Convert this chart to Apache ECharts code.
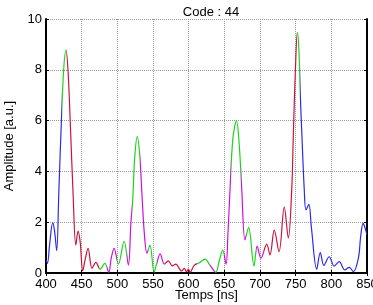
<!DOCTYPE html>
<html>
<head>
<meta charset="utf-8">
<script src="https://cdn.jsdelivr.net/npm/echarts@6/dist/echarts.min.js"></script>
<style>
  html, body { margin: 0; padding: 0; background: #fff; }
  #chart { width: 373px; height: 305px; }
</style>
</head>
<body>
<div id="chart"></div>
<script>
// temps (ns) et amplitude
const times = [400, 402, 405, 409.5, 412, 415, 418, 422, 425, 428, 431, 434.6, 438, 441.8, 445, 448, 451.5, 455, 459, 464.5,
  470, 476, 482.5, 488, 491.5, 495.5, 501.5, 509.5, 515.5, 519, 521.5, 524.5, 528, 531.5, 534.5, 538, 541.5, 545.8, 551.5, 555,
  560, 566, 571.5, 577, 582, 590, 594, 597, 599.5, 602, 608, 615, 623, 630, 638, 643, 647.7, 652.4, 655, 658,
  662, 667, 671, 674.4, 679, 684, 691.6, 696, 701.4, 709.4, 714, 720, 726.7, 734, 739.7, 744.5, 746.8, 749.5, 752.4, 754.5,
  756.5, 758.5, 762, 764.5, 768.5, 772, 779.5, 784.5, 789.5, 797, 804, 811, 819, 825, 831, 838, 841, 844.5, 847, 850]
const amps = [0.5, 0.38, 1.1, 1.98, 1.65, 0.88, 3.2, 6.3, 8.1, 8.78, 7.9, 5.5, 3.1, 1.1, 1.65, 1.2, 0.08, 0.55, 0.97, 0.18,
  0.42, 0.15, 0.38, 0.03, 0.6, 0.97, 0.35, 1.25, 0.31, 1.97, 2.85, 4.6, 5.37, 4.6, 3.1, 1.5, 0.78, 1.1, 0.03, 0.35,
  0.75, 0.35, 0.48, 0.28, 0.35, 0.08, 0.18, 0.05, 0.15, 0.03, 0.31, 0.4, 0.55, 0.3, 0.03, 0.5, 0.9, 0.35, 1.5, 3.3,
  5.3, 6.0, 5.0, 3.3, 1.3, 1.8, 0.28, 1.06, 0.58, 1.14, 0.71, 1.69, 0.84, 2.59, 1.37, 3.3, 5.5, 7.9, 9.47, 8.8,
  7.0, 5.6, 3.3, 2.48, 2.7, 1.8, 0.15, 0.8, 0.3, 0.64, 0.27, 0.45, 0.12, 0.22, 0.05, 0.6, 1.4, 1.96, 1.8, 1.5]

// segments colorés : limites en ns et couleur de chaque segment
const segBounds = [400, 422, 428.5, 474, 486, 499, 513, 521, 532, 543, 555, 567, 611, 630, 637, 650, 659, 673, 681, 694, 706, 752.5, 756, 850]
const segNames = ['b', 'g', 'r', 'g', 'm', 'g', 'm', 'g', 'm', 'g', 'm', 'r', 'g', 'm', 'g', 'm', 'g', 'm', 'g', 'm', 'r', 'g', 'b']
const palette = { b: '#2b2be6', g: '#1ed21e', r: '#c8143c', m: '#cc10dc' }

const xTicks = [400, 450, 500, 550, 600, 650, 700, 750, 800, 850]

const chart = echarts.init(document.getElementById('chart'))

const pieces = segNames.map((c, i) => ({ gte: segBounds[i], lt: segBounds[i + 1], color: palette[c] }))
pieces[pieces.length - 1].lte = 850
delete pieces[pieces.length - 1].lt

const font = 'Liberation Sans, Arial, sans-serif'
const dotted = { show: true, lineStyle: { color: '#999', type: [1, 1], width: 1 } }

chart.setOption({
  animation: false,
  title: {
    text: 'Code : 44',
    left: 206, top: 1, textAlign: 'center',
    textStyle: { fontSize: 13, fontWeight: 'normal', color: '#000', fontFamily: font }
  },
  grid: { left: 46, right: 6, top: 19, bottom: 32, outerBoundsMode: 'none' },
  xAxis: [{
    type: 'value', min: 400, max: 850, interval: 50,
    name: 'Temps [ns]', nameLocation: 'middle', nameGap: 16, nameMoveOverlap: false,
    nameTextStyle: { fontSize: 13, color: '#000', fontFamily: font },
    axisLine: { lineStyle: { color: '#000', width: 2 } },
    axisTick: { inside: true, length: 3, lineStyle: { color: '#000' } },
    axisLabel: { fontSize: 13, color: '#000', margin: 5, fontFamily: font, hideOverlap: false,
      formatter: v => xTicks.includes(v) ? String(v) : '' },
    splitLine: dotted
  }, {
    type: 'value', min: 400, max: 850, interval: 50, position: 'top',
    axisLine: { lineStyle: { color: '#000', width: 2 } },
    axisTick: { inside: true, length: 3, lineStyle: { color: '#000' } },
    axisLabel: { show: false }, splitLine: { show: false }
  }],
  yAxis: [{
    type: 'value', min: 0, max: 10, interval: 2,
    name: 'Amplitude [a.u.]', nameLocation: 'middle', nameGap: 30, nameMoveOverlap: false,
    nameTextStyle: { fontSize: 13, color: '#000', fontFamily: font },
    axisLine: { show: true, lineStyle: { color: '#000', width: 2 } },
    axisTick: { show: true, inside: true, length: 3, lineStyle: { color: '#000' } },
    axisLabel: { fontSize: 13, color: '#000', margin: 4, fontFamily: font },
    splitLine: dotted
  }, {
    type: 'value', min: 0, max: 10, interval: 2, position: 'right',
    axisLine: { show: true, lineStyle: { color: '#000', width: 2 } },
    axisTick: { show: true, inside: true, length: 3, lineStyle: { color: '#000' } },
    axisLabel: { show: false }, splitLine: { show: false }
  }],
  visualMap: {
    show: false, type: 'piecewise', dimension: 0, seriesIndex: 0, pieces
  },
  series: [{
    type: 'line',
    data: times.map((t, i) => [t, amps[i]]),
    smooth: 0.35,
    showSymbol: false,
    lineStyle: { width: 1.2 }
  }]
})
</script>
</body>
</html>
